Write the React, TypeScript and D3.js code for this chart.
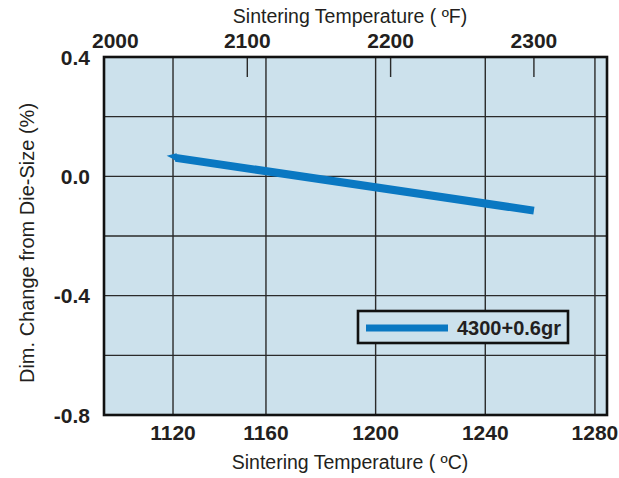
import React from 'react';
import * as d3 from 'd3';

// Axis ticks
const fahrenheitTicks = [2000, 2100, 2200, 2300];
const celsiusTicks = [1120, 1160, 1200, 1240, 1280];
const yTicks = [0.4, 0.2, 0.0, -0.2, -0.4, -0.6, -0.8];
const yLabels = [0.4, 0.0, -0.4, -0.8];

// Series: sintering temperature (°F) vs dim. change (%)
const seriesName = '4300+0.6gr';
const seriesTempF = [2050, 2300];
const seriesChange = [0.062, -0.115];

const W = 619;
const H = 478;
const margin = { top: 57, right: 12, bottom: 63, left: 104 };
const plotW = W - margin.left - margin.right;
const plotH = H - margin.top - margin.bottom;

const BG = '#cce1ec';
const BLUE = '#0a78c2';
const INK = '#231f20';
const FONT = '"Liberation Sans", Arial, Helvetica, sans-serif';

const App: React.FC = () => {
  const x0 = margin.left;
  const x1 = margin.left + plotW;
  const y0 = margin.top;
  const y1 = margin.top + plotH;

  // top axis in °F
  const xF = d3.scaleLinear().domain([2000, 2351]).range([x0, x1]);
  // bottom axis in °C (the printed grid is not evenly spaced near 1120)
  const xC = d3
    .scaleLinear()
    .domain([1101.1, 1120, 1160, 1284.4])
    .range([x0, x0 + plotW * 0.1372, x0 + plotW * 0.322, x1]);
  const y = d3.scaleLinear().domain([-0.8, 0.4]).range([y1, y0]);

  const pts: [number, number][] = seriesTempF.map((t, i) => [xF(t), y(seriesChange[i])]);
  const line = d3.line<[number, number]>()(pts) || '';
  const [sx, sy] = pts[0];

  // plain hyphen for negatives, like the printed chart
  const fmt = (v: number) => (Math.abs(v) < 1e-9 ? '0.0' : v.toFixed(1));

  return (
    <svg width={W} height={H} style={{ position: 'absolute', left: 0, top: 0 }} fontFamily={FONT}>
      <rect x={0} y={0} width={W} height={H} fill="#fff" />
      <rect x={x0} y={y0} width={plotW} height={plotH} fill={BG} />

      {/* vertical grid (°C) */}
      {celsiusTicks.map((c) => (
        <line key={c} x1={xC(c)} x2={xC(c)} y1={y0} y2={y1} stroke="#2a2a2a" strokeWidth={1.4} />
      ))}
      {/* horizontal grid */}
      {yTicks.map((v) => (
        <line key={v} x1={x0} x2={x1} y1={y(v)} y2={y(v)} stroke="#2a2a2a" strokeWidth={1.4} />
      ))}
      {/* top °F tick marks */}
      {fahrenheitTicks.slice(1).map((f) => (
        <line key={f} x1={xF(f)} x2={xF(f)} y1={y0} y2={y0 + 20} stroke="#2a2a2a" strokeWidth={1.4} />
      ))}

      {/* series */}
      <path d={line} fill="none" stroke={BLUE} strokeWidth={8} strokeLinecap="butt" />
      <polygon
        points={`${sx - 9},${sy - 2} ${sx + 1},${sy - 4.5} ${sx + 1},${sy + 4} ${sx - 3},${sy + 1}`}
        fill={BLUE}
      />

      <rect x={x0} y={y0} width={plotW} height={plotH} fill="none" stroke="#111" strokeWidth={2.6} />

      {/* legend */}
      <rect x={358} y={311} width={210} height={32} fill={BG} stroke="#111" strokeWidth={2.6} />
      <line x1={366} x2={448} y1={328} y2={328} stroke={BLUE} strokeWidth={7} />
      <text x={457} y={335} fontSize={20} fontWeight="bold" fill={INK}>
        {seriesName}
      </text>

      {/* y labels */}
      {yLabels.map((v) => (
        <text key={v} x={90} y={y(v)} dy="0.36em" textAnchor="end" fontSize={21} fontWeight="bold" fill={INK}>
          {fmt(v)}
        </text>
      ))}
      {/* top labels */}
      {fahrenheitTicks.map((f, i) => (
        <text
          key={f}
          x={i === 0 ? xF(f) - 12 : xF(f)}
          y={48}
          textAnchor={i === 0 ? 'start' : 'middle'}
          fontSize={21}
          fontWeight="bold"
          fill={INK}
        >
          {f}
        </text>
      ))}
      {/* bottom labels */}
      {celsiusTicks.map((c) => (
        <text key={c} x={xC(c)} y={440} textAnchor="middle" fontSize={21} fontWeight="bold" fill={INK}>
          {c}
        </text>
      ))}

      {/* titles */}
      <text x={350} y={23} textAnchor="middle" fontSize={19.5} fill={INK}>
        Sintering Temperature ( ºF)
      </text>
      <text x={350} y={469} textAnchor="middle" fontSize={19.5} fill={INK}>
        Sintering Temperature ( ºC)
      </text>
      <text
        transform={`translate(34, 243) rotate(-90)`}
        textAnchor="middle"
        fontSize={20}
        fill={INK}
      >
        Dim. Change from Die-Size (%)
      </text>
    </svg>
  );
};

export default App;
